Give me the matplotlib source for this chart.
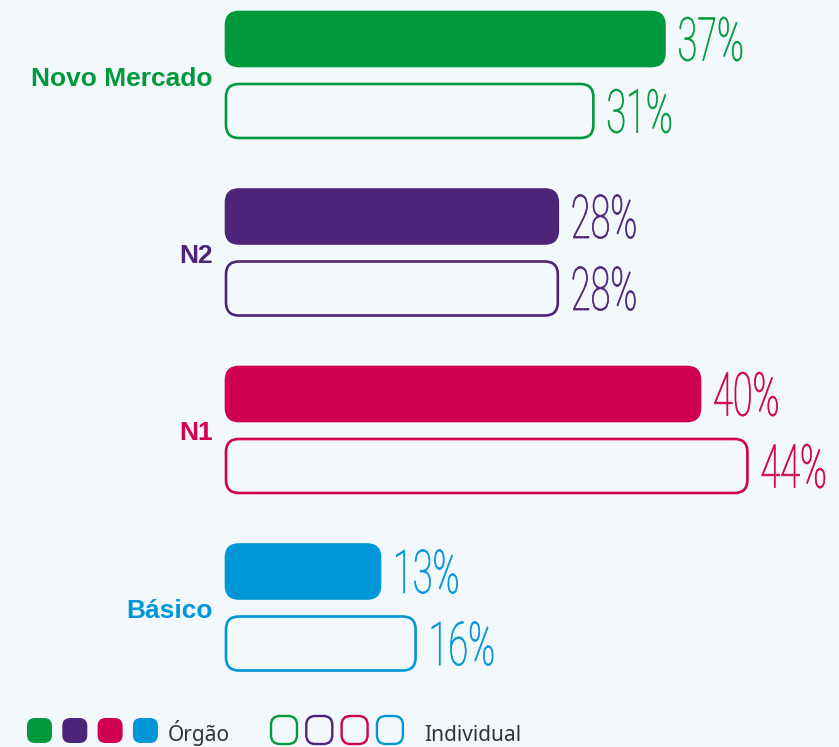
import matplotlib.pyplot as plt
from matplotlib.patches import FancyBboxPatch
from matplotlib.patheffects import AbstractPathEffect
from matplotlib.transforms import Affine2D

# data
categories = ['Novo Mercado', 'N2', 'N1', 'Básico']
orgao = [37, 28, 40, 13]
individual = [31, 28, 44, 16]
colors = ['#009a3d', '#4e2479', '#d1004e', '#0096d8']
legend_labels = ['Órgão', 'Individual']

BG = '#f3f8fc'
W, H = 839, 747
PX_PER_PCT = 11.85      # horizontal scale, pixels per percent
X0 = 226                # pixel where 0% sits
PX_PER_CAT = 177.5      # vertical distance between groups
Y0 = 75                 # pixel of the first group centre


class Stretch(AbstractPathEffect):
    """scale glyphs around the text origin to mimic a tall condensed face"""
    def __init__(self, sx, sy, lw=0.0):
        super().__init__()
        self.sx, self.sy, self.lw = sx, sy, lw

    def draw_path(self, renderer, gc, tpath, affine, rgbFace=None):
        gc0 = renderer.new_gc()
        gc0.copy_properties(gc)
        if self.lw and rgbFace is not None:
            gc0.set_linewidth(self.lw)
            gc0.set_foreground(rgbFace)
        renderer.draw_path(gc0, tpath, Affine2D().scale(self.sx, self.sy) + affine, rgbFace)
        gc0.restore()


fig = plt.figure(figsize=(W / 100, H / 100), dpi=100, facecolor=BG)
ax = fig.add_axes([0, 0, 1, 1])
ax.set_facecolor(BG)
ax.set_xlim(-X0 / PX_PER_PCT, (W - X0) / PX_PER_PCT)
ax.set_ylim((H - Y0) / PX_PER_CAT, -Y0 / PX_PER_CAT)
ax.axis('off')

bar_h = 54 / PX_PER_CAT
offset = 36 / PX_PER_CAT
aspect = PX_PER_PCT / PX_PER_CAT
radius = 13 / PX_PER_PCT
cap_half = 21.5 / PX_PER_CAT

for i, (cat, c) in enumerate(zip(categories, colors)):
    for v, dy, filled in [(orgao[i], -offset, True), (individual[i], offset, False)]:
        yc = i + dy
        bar = FancyBboxPatch((0, yc - bar_h / 2), v, bar_h,
                             boxstyle=f'round,pad=0,rounding_size={radius}',
                             mutation_aspect=aspect,
                             facecolor=c if filled else 'none',
                             edgecolor=c, linewidth=1.9)
        ax.add_patch(bar)
        ax.text(v + 13 / PX_PER_PCT, yc + cap_half, f'{v}%', color=c,
                fontsize=26, family='Roboto', fontweight='light',
                ha='left', va='baseline', path_effects=[Stretch(1.0, 1.67, 0.55)])
    ax.text(-13 / PX_PER_PCT, i + 10.5 / PX_PER_CAT, cat, color=c, fontsize=19,
            family='Liberation Sans', fontweight='bold', ha='right', va='baseline')

# legend drawn in pixel space
lax = fig.add_axes([0, 0, 1, 1])
lax.set_xlim(0, W)
lax.set_ylim(H, 0)
lax.axis('off')
lax.patch.set_alpha(0)

for k, c in enumerate(colors):
    lax.add_patch(FancyBboxPatch((27 + k * 35.3, 718), 25, 25,
                                 boxstyle='round,pad=0,rounding_size=8',
                                 facecolor=c, edgecolor='none'))
    lax.add_patch(FancyBboxPatch((271 + k * 35.3, 716), 26, 28,
                                 boxstyle='round,pad=0,rounding_size=9',
                                 facecolor='none', edgecolor=c, linewidth=1.7))
lax.text(168, 741, legend_labels[0], fontsize=15, family='Noto Sans',
         color='#333333', ha='left', va='baseline')
lax.text(424, 741, legend_labels[1], fontsize=15, family='Noto Sans',
         color='#333333', ha='left', va='baseline')

fig.savefig('out.png', dpi=100, facecolor=BG)
